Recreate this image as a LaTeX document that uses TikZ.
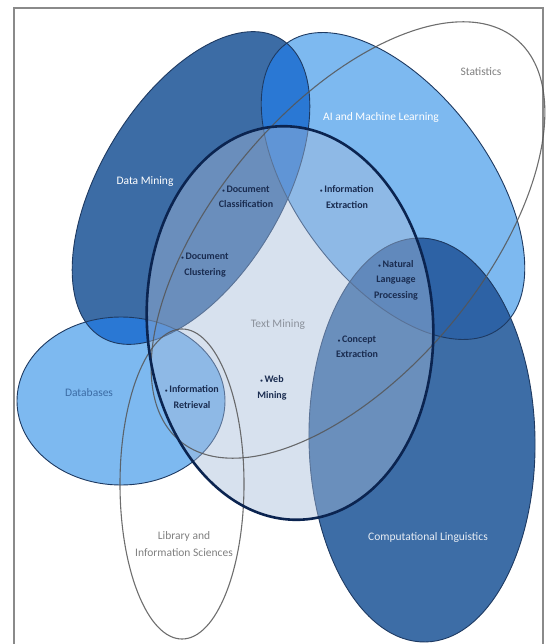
\documentclass[tikz,border=0pt]{standalone}
\usepackage{fontspec}
\setmainfont{Carlito}
\usepackage{tikz}

\definecolor{dmblue}{HTML}{3C6CA5}
\definecolor{aiblue}{HTML}{7DB9F0}
\definecolor{dbblue}{HTML}{7DB9F0}
\definecolor{clblue}{HTML}{3D6DA6}
\definecolor{brightblue}{HTML}{2A78D4}
\definecolor{deepblue}{HTML}{2D62A5}
\definecolor{tmblue}{HTML}{A5BBDA}
\definecolor{ringline}{HTML}{1E3A62}
\definecolor{tmline}{HTML}{0B2450}
\definecolor{loopgray}{HTML}{555555}
\definecolor{framegray}{HTML}{8A8A8A}
\definecolor{itemnavy}{HTML}{1A2C50}

\newcommand{\dmshape}{[shift={(191,188)},rotate=59] (0,0) ellipse [x radius=174, y radius=91]}
\newcommand{\aishape}{[shift={(393,186)},rotate=-53] (0,0) ellipse [x radius=178, y radius=96]}
\newcommand{\stshape}{[shift={(348,240)},rotate=50] (0,0) ellipse [x radius=262, y radius=133]}
\newcommand{\dbshape}{[shift={(121,401)}] (0,0) ellipse [x radius=104, y radius=84]}
\newcommand{\tmshape}{[shift={(290,323)},rotate=4] (0,0) ellipse [x radius=143, y radius=197]}
\newcommand{\clshape}{[shift={(422,440)},rotate=1] (0,0) ellipse [x radius=113, y radius=202]}
\newcommand{\libshape}{[shift={(182,484)}] (0,0) ellipse [x radius=62, y radius=155]}

\begin{document}
\begin{tikzpicture}[x=1pt,y=-1pt,
    ring/.style={draw=ringline,line width=0.9pt},
    loop/.style={draw=loopgray,line width=1.1pt,draw opacity=0.85},
    tag/.style={font=\fontsize{11.5}{17}\selectfont,align=center,inner sep=0pt},
    item/.style={font=\bfseries\fontsize{10}{15.5}\selectfont,text=itemnavy,align=center,inner sep=0pt}]
    \useasboundingbox (0,0) rectangle (550,644);
    \clip (0,0) rectangle (550,644);
    \fill[white] (0,0) rectangle (550,644);
    \draw[framegray,line width=1.4pt] (14,660) -- (14,8) -- (543,8) -- (543,660);

    \fill[dmblue] \dmshape;
    \fill[aiblue] \aishape;
    \fill[dbblue] \dbshape;
    \fill[clblue] \clshape;
    \begin{scope}
        \clip \dmshape;
        \fill[brightblue] \aishape;
        \fill[brightblue] \dbshape;
    \end{scope}
    \begin{scope}
        \clip \aishape;
        \fill[deepblue] \clshape;
    \end{scope}
    \draw[ring] \dmshape;
    \draw[ring] \aishape;
    \draw[ring] \dbshape;
    \draw[ring] \clshape;

    \fill[tmblue,opacity=0.44] \tmshape;
    \draw[loop] \stshape;
    \draw[loop] \libshape;
    \draw[tmline,line width=2.6pt] \tmshape;

    \node[tag,text=white] (datamining) at (145,182) {Data Mining};
    \node[tag,text=white] (aiml) at (381,117) {AI and Machine Learning};
    \node[tag,text=gray] (statistics) at (481,72) {Statistics};
    \node[tag,text=dmblue] (databases) at (89,393) {Databases};
    \node[tag,text=gray!70!tmblue] (textmining) at (278,325) {Text Mining};
    \node[tag,text=white!88!dmblue] (complinguistics) at (428,537) {Computational Linguistics};
    \node[tag,text=gray] (library) at (184,544) {Library and\\Information Sciences};

    \node[item] (docclass) at (246,197) {{\fontsize{5}{5}\selectfont\textbullet}\,Document\\Classification};
    \node[item] (docclust) at (205,265) {{\fontsize{5}{5}\selectfont\textbullet}\,Document\\Clustering};
    \node[item] (infoext) at (347,197) {{\fontsize{5}{5}\selectfont\textbullet}\,Information\\Extraction};
    \node[item] (nlp) at (396,280) {{\fontsize{5}{5}\selectfont\textbullet}\,Natural\\Language\\Processing};
    \node[item] (concept) at (357,347) {{\fontsize{5}{5}\selectfont\textbullet}\,Concept\\Extraction};
    \node[item] (inforet) at (192,397) {{\fontsize{5}{5}\selectfont\textbullet}\,Information\\Retrieval};
    \node[item] (webmining) at (272,388) {{\fontsize{5}{5}\selectfont\textbullet}\,Web\\Mining};
\end{tikzpicture}
\end{document}
